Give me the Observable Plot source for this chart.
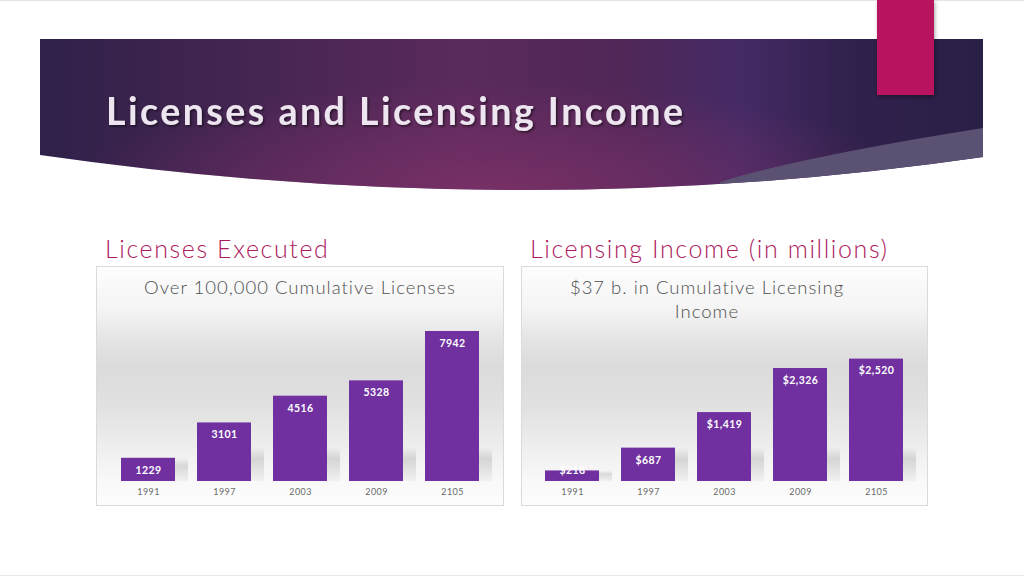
<!DOCTYPE html>
<html>
<head>
<meta charset="utf-8">
<script src="https://cdn.jsdelivr.net/npm/d3@7"></script>
<script src="https://cdn.jsdelivr.net/npm/@observablehq/plot@0.6"></script>
<style>
  html, body { margin: 0; padding: 0; }
  body { width: 1024px; height: 576px; position: relative; overflow: hidden; background: #fff; font-family: Lato, "Open Sans", sans-serif; }
  .topline { position: absolute; left: 0; top: 0; width: 1024px; height: 1px; background: #e4e4e4; }
  .botline { position: absolute; left: 0; top: 575px; width: 1024px; height: 1px; background: #e8e8e8; }
  .tab { position: absolute; left: 877px; top: 0; width: 57px; height: 95px; background: #b8135f; box-shadow: 1px 2px 4px rgba(0,0,0,0.35); z-index: 3; }
  .section { position: absolute; top: 233px; font-size: 25px; line-height: 30px; color: #ad1a5e; white-space: nowrap; font-weight: 300; letter-spacing: 1.6px; }
  .panel { position: absolute; top: 267px; height: 238px; outline: 1px solid #dadada;
    background: linear-gradient(180deg, #fdfdfd 0px, #f5f5f5 40px, #e3e3e3 75px, #dbdbdb 100px, #e1e1e1 140px, #eeeeee 180px, #f8f8f8 212px, #fdfdfd 238px); }
  .ctitle { position: absolute; top: 9px; font-size: 18.5px; line-height: 23.5px; color: #4f4f4f; text-align: center; white-space: nowrap; font-weight: 300; letter-spacing: 1px; }
  .panel svg { position: absolute; left: 0; top: 38px; }
</style>
</head>
<body>
<div class="topline"></div>
<div class="botline"></div>

<svg id="banner" style="position:absolute;left:40px;top:39px" width="943" height="152">
  <defs>
    <linearGradient id="bnBg" x1="0" x2="1" y1="0" y2="0">
      <stop offset="0" stop-color="#2f2149"/>
      <stop offset="0.2" stop-color="#432551"/>
      <stop offset="0.45" stop-color="#5a2a5c"/>
      <stop offset="0.62" stop-color="#4f2757"/>
      <stop offset="0.74" stop-color="#452a66"/>
      <stop offset="0.86" stop-color="#30214c"/>
      <stop offset="1" stop-color="#2a1f46"/>
    </linearGradient>
    <radialGradient id="bnGlow" cx="0.48" cy="1" r="0.45" gradientTransform="translate(0.48 1) scale(1 1.6) translate(-0.48 -1)">
      <stop offset="0" stop-color="#7d3168" stop-opacity="0.85"/>
      <stop offset="1" stop-color="#7d3168" stop-opacity="0"/>
    </radialGradient>
    <clipPath id="bnClip"><path d="M0 0 H943 V118 Q480 185 0 116 Z"/></clipPath>
    <filter id="bnShadow" x="-5%" y="-20%" width="110%" height="150%">
      <feDropShadow dx="1.5" dy="1.5" stdDeviation="1.2" flood-color="#000" flood-opacity="0.55"/>
    </filter>
  </defs>
  <g clip-path="url(#bnClip)">
    <rect width="943" height="152" fill="url(#bnBg)"/>
    <rect width="943" height="152" fill="url(#bnGlow)"/>
    <path d="M680 143 Q760 118 943 89 V152 H680 Z" fill="#5b5273"/>
  </g>
  <text x="66" y="86" textLength="577" lengthAdjust="spacing" font-family="Lato, sans-serif" font-weight="bold" font-size="37.5" fill="#ede5ef" filter="url(#bnShadow)">Licenses and Licensing Income</text>
</svg>
<div class="tab"></div>

<div class="section" style="left:105px">Licenses Executed</div>
<div class="section" style="left:530px">Licensing Income (in millions)</div>

<div class="panel" id="p1" style="left:97px;width:406px">
  <div class="ctitle" style="left:0;width:406px">Over 100,000 Cumulative Licenses</div>
</div>
<div class="panel" id="p2" style="left:522px;width:405px">
  <div class="ctitle" style="left:35px;width:300px">$37 b. in Cumulative Licensing<br>Income</div>
</div>

<script>
const years = ["1991", "1997", "2003", "2009", "2105"];
const licenses = [1229, 3101, 4516, 5328, 7942];
const income = [218, 687, 1419, 2326, 2520];

function barChart({values, yMax, fmt, width, marginLeft, marginRight, gid}) {
  const data = years.map((year, i) => ({year, value: values[i]}));
  const cap = yMax * 0.2;
  const labelStyle = {x: "year", y: "value", text: d => fmt(d.value), fill: "white", fontWeight: "bold", fontSize: 10.5};
  const svg = Plot.plot({
    width, height: 200,
    marginTop: 6, marginBottom: 24, marginLeft, marginRight,
    style: {background: "transparent", fontFamily: "Lato, sans-serif", fontSize: "9px", color: "#6a6a6a", overflow: "visible", letterSpacing: "0.4px"},
    x: {domain: years, paddingInner: 0.292, paddingOuter: 0, label: null, tickSize: 0, tickPadding: 7},
    y: {domain: [0, yMax], axis: null},
    marks: [
      Plot.barY(data, {x: "year", y: d => Math.min(d.value, cap), dx: 13, fill: `url(#${gid})`}),
      Plot.barY(data, {x: "year", y: "value", fill: "#7030a0"}),
      Plot.text(data.filter(d => d.value >= yMax * 0.1), {...labelStyle, dy: 12}),
      Plot.text(data.filter(d => d.value < yMax * 0.1), {...labelStyle, dy: 0})
    ]
  });
  const defs = d3.select(svg).insert("defs", ":first-child");
  const g = defs.append("linearGradient").attr("id", gid).attr("x1", 0).attr("x2", 0).attr("y1", 0).attr("y2", 1);
  g.append("stop").attr("offset", 0).attr("stop-color", "#000").attr("stop-opacity", 0);
  g.append("stop").attr("offset", 0.35).attr("stop-color", "#000").attr("stop-opacity", 0.12);
  g.append("stop").attr("offset", 1).attr("stop-color", "#000").attr("stop-opacity", 0.03);
  return svg;
}

document.getElementById("p1").appendChild(barChart({
  values: licenses, yMax: 9000, fmt: d => String(d),
  width: 406, marginLeft: 23, marginRight: 24, gid: "shadow1"
}));
document.getElementById("p2").appendChild(barChart({
  values: income, yMax: 3500, fmt: d => "$" + d3.format(",")(d),
  width: 405, marginLeft: 22, marginRight: 24, gid: "shadow2"
}));
</script>
</body>
</html>
